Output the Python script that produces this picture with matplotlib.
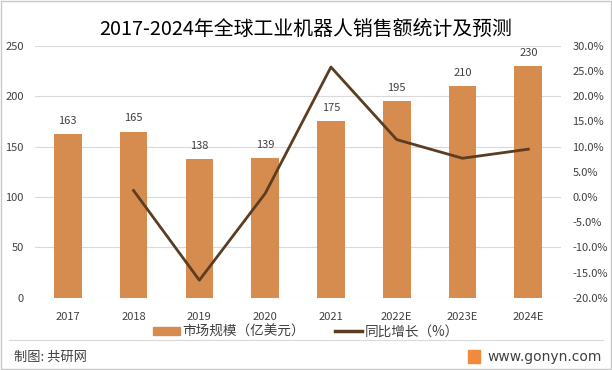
import matplotlib
matplotlib.use("Agg")
import matplotlib.pyplot as plt
from matplotlib.patches import Rectangle
from matplotlib.lines import Line2D
import numpy as np

plt.rcParams['font.family'] = ['Noto Sans CJK SC', 'DejaVu Sans']

years = ['2017', '2018', '2019', '2020', '2021', '2022E', '2023E', '2024E']
sales = [163, 165, 138, 139, 175, 195, 210, 230]
growth = [None, 1.3, -16.5, 0.7, 25.8, 11.4, 7.7, 9.5]

bar_color = '#D68C4E'
line_color = '#5B3D22'
text_color = '#404040'

fig = plt.figure(figsize=(6.12, 3.70), dpi=100)
ax = fig.add_axes([0.057, 0.195, 0.86, 0.681])
x = np.arange(len(years))
ax.bar(x, sales, width=0.42, color=bar_color, zorder=2)
for xi, v in zip(x, sales):
    ax.text(xi, v + 8, str(v), ha='center', va='bottom', fontsize=8, color=text_color)
ax.set_ylim(0, 250)
ax.set_yticks(range(0, 251, 50))
ax.set_xlim(-0.5, len(years) - 0.5)
ax.set_xticks(x)
ax.set_xticklabels(years)
ax.grid(axis='y', color='#D9D9D9', linewidth=0.8, zorder=0)
for s in ax.spines.values():
    s.set_visible(False)
ax.tick_params(length=0, labelsize=8, colors=text_color)
ax.tick_params(axis='y', pad=8)
ax.tick_params(axis='x', pad=10)

ax2 = ax.twinx()
gx = [xi for xi, g in zip(x, growth) if g is not None]
gy = [g for g in growth if g is not None]
ax2.plot(gx, gy, color=line_color, linewidth=2, zorder=3)
ax2.set_ylim(-20, 30)
ax2.set_yticks(range(-20, 31, 5))
ax2.set_yticklabels([f'{v:.1f}%' for v in range(-20, 31, 5)])
for s in ax2.spines.values():
    s.set_visible(False)
ax2.tick_params(length=0, labelsize=8, colors=text_color, pad=8)

fig.text(0.5, 0.918, '2017-2024年全球工业机器人销售额统计及预测', ha='center', va='center',
         fontsize=14.3, color='#000000')

handles = [Rectangle((0, 0), 1, 1, color=bar_color),
           Line2D([0], [0], color=line_color, linewidth=2.5)]
fig.legend(handles, ['市场规模（亿美元）', '同比增长（%）'], loc='center',
           bbox_to_anchor=(0.5, 0.103), ncol=2, frameon=False, fontsize=9.8,
           handlelength=2.0, handleheight=0.6, columnspacing=2.2, handletextpad=0.2,
           labelcolor=text_color)

fig.add_artist(Line2D([0.015, 0.985], [0.081, 0.081], color='#D9D9D9', linewidth=0.8))
fig.text(0.023, 0.035, '制图: 共研网', ha='left', va='center', fontsize=9.5, color=text_color)
fig.add_artist(Rectangle((0.764, 0.018), 0.021, 0.036, color='#F08A3C', transform=fig.transFigure))
fig.text(0.797, 0.035, 'www.gonyn.com', ha='left', va='center', fontsize=10, color=text_color,
         family='DejaVu Sans')
fig.add_artist(Rectangle((0.002, 0.003), 0.996, 0.994, fill=False, edgecolor='#C8C8C8',
                         linewidth=1, transform=fig.transFigure))

fig.savefig('out.png', dpi=100)
